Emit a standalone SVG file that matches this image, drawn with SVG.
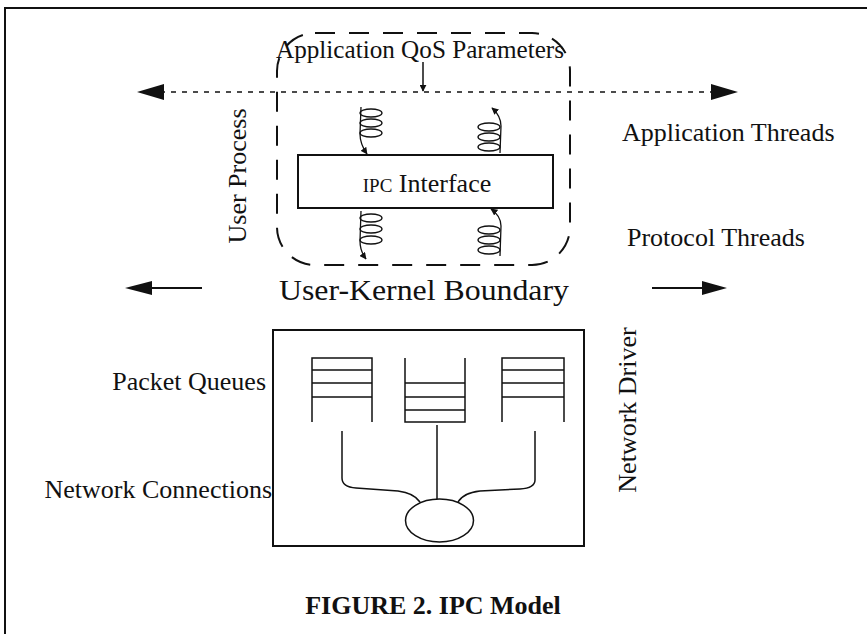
<svg xmlns="http://www.w3.org/2000/svg" width="867" height="634" viewBox="0 0 867 634">
<defs>
<style>
text{font-family:"Liberation Serif","Times New Roman",serif;fill:#111;}
.lbl{font-size:26px;}
.ln{stroke:#111;fill:none;stroke-width:2;}
.thin{stroke:#111;fill:none;stroke-width:1.5;}
.coil{stroke:#111;fill:none;stroke-width:1.3;}
</style>
<marker id="ah" viewBox="0 0 10 10" refX="9" refY="5" markerWidth="7" markerHeight="7" orient="auto" markerUnits="userSpaceOnUse">
<path d="M0,0 L10,5 L0,10 z" fill="#111"/>
</marker>
</defs>
<rect width="867" height="634" fill="#fff"/>
<g id="frame">
<path d="M5,634 L5,8 L867,8" class="ln"/>
</g>
<g id="user-process">
<rect x="277" y="33" width="293" height="232" rx="38" ry="38" class="ln" stroke-dasharray="20 14"/>
<text class="lbl" transform="translate(246,176) rotate(-90)" text-anchor="middle">User Process</text>
</g>
<g id="qos">
<text class="lbl" x="420" y="58" text-anchor="middle" textLength="288" lengthAdjust="spacingAndGlyphs">Application QoS Parameters</text>
</g>
<g id="ipc">
<rect x="298" y="155" width="255" height="53" class="ln"/>
<text x="427" y="192" text-anchor="middle"><tspan font-size="19">IPC</tspan><tspan font-size="26"> Interface</tspan></text>
</g>
<g id="app-threads">
<text class="lbl" x="622" y="141">Application Threads</text>
<g id="spring-tl">
<ellipse cx="371" cy="113" rx="11" ry="4" class="coil"/>
<ellipse cx="371" cy="123" rx="11" ry="4" class="coil"/>
<ellipse cx="371" cy="133" rx="11" ry="4" class="coil"/>
<path d="M361,107 L360,134 Q360,144 367,154" class="coil" marker-end="url(#ah)"/>
</g>
<g id="spring-tr">
<ellipse cx="489" cy="127" rx="11" ry="4" class="coil"/>
<ellipse cx="489" cy="137" rx="11" ry="4" class="coil"/>
<ellipse cx="489" cy="147" rx="11" ry="4" class="coil"/>
<path d="M500,153 L501,126 Q501,116 492,108" class="coil" marker-end="url(#ah)"/>
</g>
</g>
<g id="proto-threads">
<text class="lbl" x="627" y="246">Protocol Threads</text>
<g id="spring-bl">
<ellipse cx="371" cy="218" rx="11" ry="4" class="coil"/>
<ellipse cx="371" cy="229" rx="11" ry="4" class="coil"/>
<ellipse cx="371" cy="240" rx="11" ry="4" class="coil"/>
<path d="M361,211 L360,241 Q360,251 366,259" class="coil" marker-end="url(#ah)"/>
</g>
<g id="spring-br">
<ellipse cx="489" cy="230" rx="11" ry="4" class="coil"/>
<ellipse cx="489" cy="240" rx="11" ry="4" class="coil"/>
<ellipse cx="489" cy="250" rx="11" ry="4" class="coil"/>
<path d="M500,256 L501,226 Q501,216 491,209" class="coil" marker-end="url(#ah)"/>
</g>
</g>
<g id="boundary">
<text x="424" y="300" text-anchor="middle" font-size="30" textLength="290" lengthAdjust="spacingAndGlyphs">User-Kernel Boundary</text>
</g>
<g id="network-driver">
<rect x="273" y="330" width="311" height="216" class="ln"/>
<text class="lbl" transform="translate(636,410) rotate(-90)" text-anchor="middle">Network Driver</text>
</g>
<g id="packet-queues">
<text class="lbl" x="266" y="390" text-anchor="end">Packet Queues</text>
<g id="queue-left">
<path d="M312,422 L312,358 L372,358 L372,422 M312,370 L372,370 M312,383 L372,383 M312,397 L372,397" class="thin"/>
</g>
<g id="queue-mid">
<path d="M405,358 L405,422 L465,422 L465,358 M405,383 L465,383 M405,397 L465,397 M405,410 L465,410" class="thin"/>
</g>
<g id="queue-right">
<path d="M502,422 L502,358 L564,358 L564,422 M502,370 L564,370 M502,383 L564,383 M502,397 L564,397" class="thin"/>
</g>
</g>
<g id="network-connections">
<text class="lbl" x="272" y="498" text-anchor="end">Network Connections</text>
<ellipse cx="439.5" cy="520.5" rx="34" ry="21.5" class="thin"/>
</g>
<g id="connectors">
<path d="M160,92 L712,92" class="thin" stroke-dasharray="5 6"/>
<polygon points="137,92 164,84 164,100" fill="#111"/>
<polygon points="738,92 711,84 711,100" fill="#111"/>
<path d="M423,62 L423,91" class="thin" marker-end="url(#ah)"/>
<path d="M150,288 L202,288" class="ln"/>
<polygon points="125,288 152,281 152,295" fill="#111"/>
<path d="M652,288 L705,288" class="ln"/>
<polygon points="727,288 702,281 702,295" fill="#111"/>
<path d="M342,431 L342,478 Q342,487 356,488 L398,491 Q414,493 420,502" class="thin"/>
<path d="M437,425 L437,499" class="thin"/>
<path d="M535,431 L535,480 Q535,488 520,489 L480,491 Q463,493 458,502" class="thin"/>
</g>
<g id="caption">
<text x="433" y="614" text-anchor="middle" font-size="26" font-weight="bold">FIGURE 2. IPC Model</text>
</g>
</svg>
